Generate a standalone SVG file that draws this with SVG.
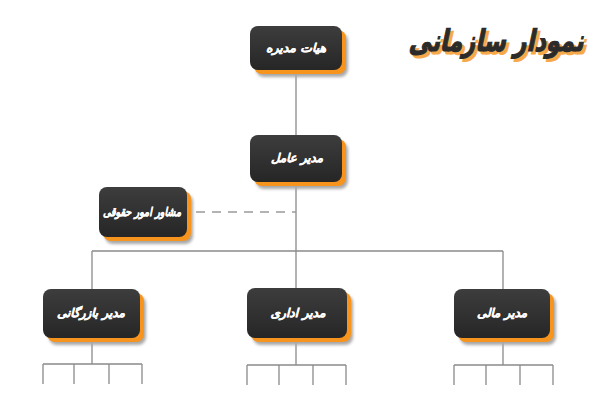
<svg xmlns="http://www.w3.org/2000/svg" width="600" height="400" viewBox="0 0 600 400">
<defs>
<linearGradient id="g" x1="0" y1="0" x2="0" y2="1">
<stop offset="0" stop-color="#3d3d3d"/>
<stop offset="1" stop-color="#262626"/>
</linearGradient>
<filter id="blur" x="-20%" y="-20%" width="140%" height="140%"><feGaussianBlur stdDeviation="1.5"/></filter>
</defs>
<style>
.sh{fill:#a8a8a8;filter:url(#blur)}
.or{fill:#f7941d}
.bx{fill:url(#g)}
.lb{font-family:"DejaVu Sans",sans-serif;font-weight:bold;font-style:italic;font-size:12px;fill:#ffffff;stroke:#ffffff;stroke-width:0.3;text-anchor:middle}
.ln{stroke:#8a8a8a;stroke-width:1.3;fill:none}
.dash{stroke:#9a9a9a;stroke-width:1.3;stroke-dasharray:9,7;fill:none}
.title{font-family:"DejaVu Sans",sans-serif;font-weight:bold;font-size:22.5px;text-anchor:middle;stroke-width:0.9}
</style>
<rect width="600" height="400" fill="#ffffff"/>
<g id="title">
<g transform="translate(499,54) skewX(-12) scale(1,1.33)">
<text class="title" x="0" y="0" fill="#f7a94a" stroke="#f7a94a">نمودار سازمانی</text>
</g>
<g transform="translate(496,51) skewX(-12) scale(1,1.33)">
<text class="title" x="0" y="0" fill="#2b2b2b" stroke="#2b2b2b">نمودار سازمانی</text>
</g>
</g>
<g id="connectors">
<path class="ln" d="M296 70V135M296 182V251M92 251H503M92 251V289M296 251V288M503 251V289"/>
<path class="dash" d="M196 212H296"/>
<path class="ln" d="M92 338V364M43 364H142M43 364V384M74 364V384M109 364V384M142 364V384"/>
<path class="ln" d="M296 338V365M247 365H346M247 365V385M279 365V385M313 365V385M346 365V385"/>
<path class="ln" d="M503 338V365M454 365H553M454 365V385M486 365V385M520 365V385M553 365V385"/>
</g>
<g id="board">
<rect class="sh" x="256" y="33" width="92" height="44" rx="8"/>
<rect class="or" x="254" y="30" width="92" height="44" rx="8"/>
<rect class="bx" x="250" y="26" width="92" height="44" rx="8"/>
<text class="lb" x="296" y="52" textLength="60" lengthAdjust="spacingAndGlyphs">هیات مدیره</text>
</g>
<g id="ceo">
<rect class="sh" x="256" y="142" width="92" height="47" rx="8"/>
<rect class="or" x="254" y="139" width="92" height="47" rx="8"/>
<rect class="bx" x="250" y="135" width="92" height="47" rx="8"/>
<text class="lb" x="297" y="162" textLength="52" lengthAdjust="spacingAndGlyphs">مدیر عامل</text>
</g>
<g id="legal">
<rect class="sh" x="105" y="194" width="88" height="50" rx="8"/>
<rect class="or" x="103" y="191" width="88" height="50" rx="8"/>
<rect class="bx" x="99" y="187" width="88" height="50" rx="8"/>
<text class="lb" x="142" y="216" textLength="78" lengthAdjust="spacingAndGlyphs">مشاور امور حقوقی</text>
</g>
<g id="commerce">
<rect class="sh" x="49" y="296" width="97" height="49" rx="8"/>
<rect class="or" x="47" y="293" width="97" height="49" rx="8"/>
<rect class="bx" x="43" y="289" width="97" height="49" rx="8"/>
<text class="lb" x="91" y="317" textLength="68" lengthAdjust="spacingAndGlyphs">مدیر بازرگانی</text>
</g>
<g id="admin">
<rect class="sh" x="253" y="295" width="100" height="50" rx="8"/>
<rect class="or" x="251" y="292" width="100" height="50" rx="8"/>
<rect class="bx" x="247" y="288" width="100" height="50" rx="8"/>
<text class="lb" x="298" y="317" textLength="55" lengthAdjust="spacingAndGlyphs">مدیر اداری</text>
</g>
<g id="finance">
<rect class="sh" x="460" y="296" width="96" height="49" rx="8"/>
<rect class="or" x="458" y="293" width="96" height="49" rx="8"/>
<rect class="bx" x="454" y="289" width="96" height="49" rx="8"/>
<text class="lb" x="502" y="317" textLength="50" lengthAdjust="spacingAndGlyphs">مدیر مالی</text>
</g>
</svg>
